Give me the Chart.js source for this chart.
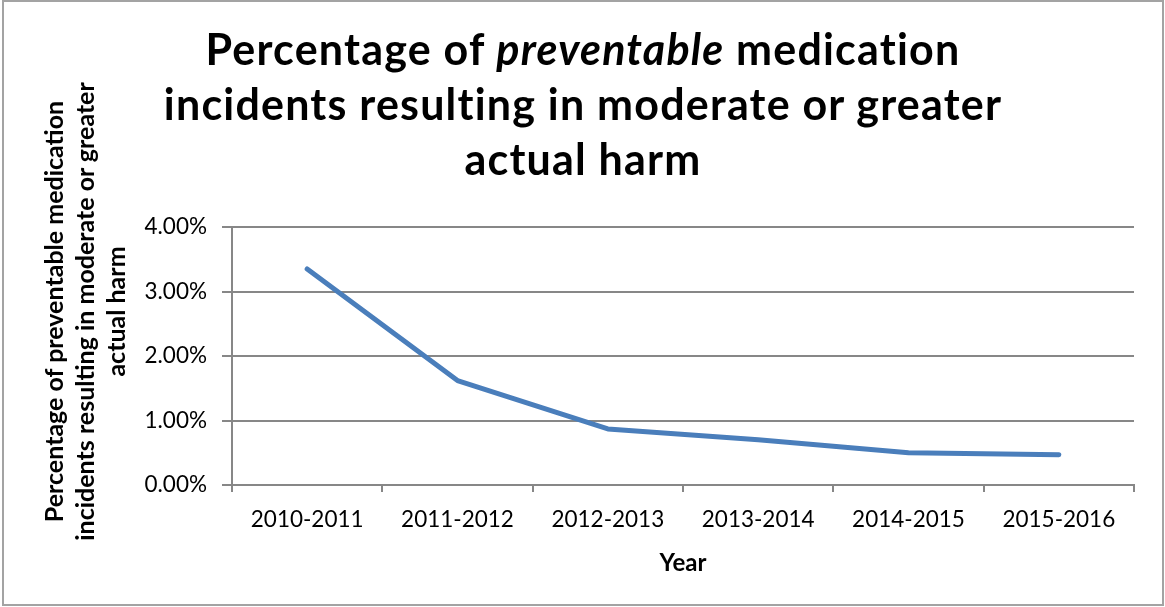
<!DOCTYPE html>
<html>
<head>
<meta charset="utf-8">
<script src="https://cdn.jsdelivr.net/npm/chart.js@4.4.1/dist/chart.umd.min.js"></script>
<style>
  html, body { margin: 0; padding: 0; background: #fff; }
  #wrap { position: relative; width: 1165px; height: 607px; overflow: hidden; font-family: Lato, "Open Sans", sans-serif; }
  #chart { position: absolute; left: 0; top: 0; }
  #frame { position: absolute; left: 2px; top: 0; width: 1162px; height: 606px; box-sizing: border-box; border: 2px solid #a3a3a3; pointer-events: none; }
  #title { position: absolute; left: 83px; top: 21px; width: 1000px; text-align: center; font-weight: 700; font-size: 43px; letter-spacing: 1.2px; line-height: 55px; color: #000; }
  #ytitle { position: absolute; left: -196px; top: 265px; width: 560px; height: 93px; text-align: center; font-weight: 700; font-size: 25px; line-height: 31px; color: #000; transform: rotate(-90deg); transform-origin: 50% 50%; white-space: nowrap; }
</style>
</head>
<body>
<div id="wrap">
  <canvas id="chart" width="1165" height="607"></canvas>
  <div id="title">Percentage of <i>preventable</i> medication<br>incidents resulting in moderate or greater<br>actual harm</div>
  <div id="ytitle">Percentage of preventable medication<br>incidents resulting in moderate or greater<br>actual harm</div>
  <div id="frame"></div>
</div>
<script>
// Financial years on the category axis
const years = ['2010-2011', '2011-2012', '2012-2013', '2013-2014', '2014-2015', '2015-2016'];
// Share of preventable medication incidents with moderate or greater harm (%)
const harmPercent = [3.35, 1.62, 0.87, 0.70, 0.50, 0.47];
// Value axis settings (%)
const yMin = 0;
const yMax = 4;
const yStep = 1;
const xTitle = 'Year';

const gridGray = '#878787';
const tickFont = { family: 'Lato', size: 22.5, weight: 'normal' };

new Chart(document.getElementById('chart'), {
  type: 'line',
  data: {
    labels: years,
    datasets: [{
      data: harmPercent,
      borderColor: '#4a7ebb',
      backgroundColor: '#4a7ebb',
      borderWidth: 5,
      borderCapStyle: 'round',
      borderJoinStyle: 'round',
      pointRadius: 0,
      tension: 0,
      fill: false
    }]
  },
  options: {
    responsive: false,
    animation: false,
    devicePixelRatio: 1,
    layout: { padding: { left: 0, right: 31, top: 227, bottom: 0 } },
    plugins: {
      legend: { display: false },
      tooltip: { enabled: false },
      title: { display: false }
    },
    scales: {
      x: {
        type: 'category',
        offset: true,
        grid: { display: true, drawOnChartArea: false, drawTicks: true, tickLength: 7, offset: true, color: gridGray, lineWidth: 2 },
        border: { display: true, color: gridGray, width: 2 },
        ticks: { color: '#000', font: tickFont, padding: 14, maxRotation: 0, autoSkip: false },
        title: { display: true, text: xTitle, color: '#000', font: { family: 'Lato', size: 24, weight: 'bold' }, padding: { top: 0, bottom: 29 } },
        afterFit(scale) { scale.height = 122; }
      },
      y: {
        min: yMin,
        max: yMax,
        ticks: {
          stepSize: yStep,
          color: '#000',
          font: tickFont,
          padding: 15,
          callback: v => v.toFixed(2) + '%'
        },
        grid: { color: gridGray, lineWidth: 2, tickLength: 10, drawTicks: true },
        border: { display: true, color: gridGray, width: 2 },
        afterFit(scale) { scale.width = 232; }
      }
    }
  }
});
</script>
</body>
</html>
